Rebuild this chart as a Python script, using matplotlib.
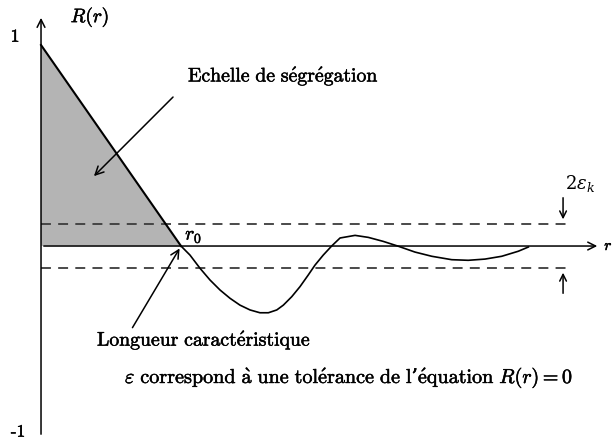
import numpy as np
import matplotlib
matplotlib.use("Agg")
import matplotlib.pyplot as plt
import matplotlib.patheffects as pe

plt.rcParams['font.family'] = ['DejaVu Serif']
plt.rcParams['mathtext.fontset'] = 'cm'

# R(r), r0 = 1
r_line = [0.0, 1.0]
R_line = [1.0, 0.0]

r_wave = [1.0, 1.064, 1.136, 1.207, 1.279, 1.35, 1.421, 1.493, 1.564, 1.624,
          1.684, 1.731, 1.791, 1.85, 1.909, 1.957, 2.016, 2.076, 2.136, 2.243,
          2.338, 2.445, 2.552, 2.671, 2.791, 2.934, 3.052, 3.171, 3.291, 3.409, 3.481]
R_wave = [0.0, -0.045, -0.111, -0.169, -0.219, -0.260, -0.294, -0.318, -0.332, -0.332,
          -0.318, -0.294, -0.252, -0.202, -0.144, -0.095, -0.045, 0.0, 0.040, 0.053,
          0.043, 0.023, -0.001, -0.030, -0.051, -0.068, -0.071, -0.065, -0.051, -0.026, -0.005]

eps = 0.11
r_end = 3.79

txt_seg = r'$\mathrm{Echelle\ de\ s\acute{e}gr\acute{e}gation}$'
txt_len = r'$\mathrm{Longueur\ caract\acute{e}ristique}$'
txt_eps = (r'$\varepsilon\ \mathrm{correspond\ \grave{a}\ une\ tol\acute{e}rance\ de\ l}$'
           '\u2019' r'$\mathrm{\acute{e}quation}\ R(r) = 0$')

bold = [pe.withStroke(linewidth=0.35, foreground='black')]

fig = plt.figure(figsize=(6.15, 4.41), dpi=100)
ax = fig.add_axes([0, 0, 1, 1])
ax.set_xlim(-0.293, 4.1)
ax.set_ylim(-0.970, 1.224)
ax.axis('off')

# shaded area under the linear part
ax.fill([0, 1, 0], [1, 0, 0], color='#b4b4b4', lw=0, zorder=1)

# axes with arrows
ax.annotate('', xy=(0, 1.149), xytext=(0, -0.95),
            arrowprops=dict(arrowstyle='->', lw=1.1, color='black', mutation_scale=14))
ax.annotate('', xy=(3.993, 0), xytext=(0, 0),
            arrowprops=dict(arrowstyle='->', lw=1.1, color='black', mutation_scale=14))

# tolerance band
for y in (eps, -eps):
    ax.plot([0, r_end], [y, y], color='#3c3c3c', lw=1.3, dashes=(5.5, 4.0), zorder=2)

# curves
ax.plot(r_line, R_line, color='black', lw=1.5, zorder=3)
ax.plot(r_wave, R_wave, color='black', lw=1.2, solid_joinstyle='round', zorder=3)

# labels
ax.text(-0.186, 1.04, '1', family='cmr10', fontsize=13, ha='center', va='center',
        path_effects=bold)
ax.text(-0.164, -0.925, '-1', family='cmr10', fontsize=12.5, ha='center', va='center',
        path_effects=bold)
ax.text(0.35, 1.139, '$R(r)$', fontsize=14, ha='center', va='center', path_effects=bold)
ax.text(1.03, 0.05, '$r_0$', fontsize=14, ha='left', va='center', path_effects=bold)
ax.text(4.085, 0, '$r$', fontsize=11, ha='right', va='center', path_effects=bold)

ax.text(1.05, 0.846, txt_seg, fontsize=14.2, ha='left', va='center', path_effects=bold)
ax.annotate('', xy=(0.364, 0.338), xytext=(0.957, 0.751),
            arrowprops=dict(arrowstyle='->', lw=1.1, color='black', mutation_scale=15))

ax.text(0.4, -0.468, txt_len, fontsize=14.2, ha='left', va='center', path_effects=bold)
ax.annotate('', xy=(1.0, 0.0), xytext=(0.643, -0.418),
            arrowprops=dict(arrowstyle='->', lw=1.1, color='black', mutation_scale=15))

ax.text(0.6, -0.657, txt_eps, fontsize=14.5, ha='left', va='center', path_effects=bold)

# 2 eps_k marker
ax.text(3.743, 0.313, r'$2\varepsilon_k$', fontsize=13, ha='left', va='center',
        math_fontfamily='dejavuserif')
ax.annotate('', xy=(3.729, 0.119), xytext=(3.729, 0.254),
            arrowprops=dict(arrowstyle='->', lw=1.1, color='black', mutation_scale=12))
ax.annotate('', xy=(3.729, -0.119), xytext=(3.729, -0.249),
            arrowprops=dict(arrowstyle='->', lw=1.1, color='black', mutation_scale=12))

fig.savefig('out.png', dpi=100)
